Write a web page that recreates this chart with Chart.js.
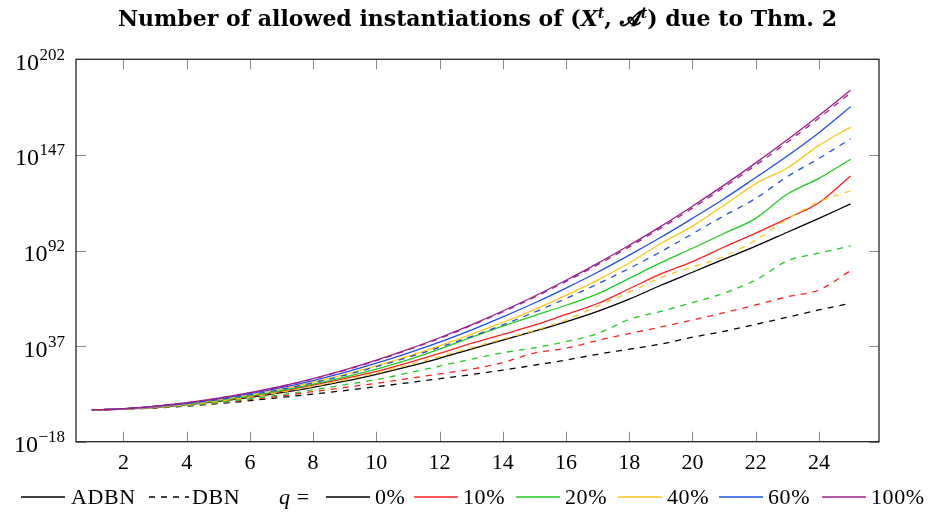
<!DOCTYPE html>
<html lang="en">
<head>
<meta charset="UTF-8">
<title>Allowed instantiations</title>
<style>
    body { margin: 0; background: #fff; }
    #wrap { position: relative; width: 932px; height: 515px; font-family: "Liberation Serif", "DejaVu Serif", serif; color: #000; }
    #title { position: absolute; left: 76px; width: 803px; top: 5px; text-align: center; font-family: "DejaVu Serif", serif; font-weight: bold; font-size: 22px; line-height: 26px; white-space: nowrap; }
    #title sup { font-size: 14px; line-height: 0; }
    .lg { position: absolute; top: 484px; font-size: 22px; line-height: 26px; white-space: nowrap; letter-spacing: 0.6px; }
    .lg svg { display: block; }
</style>
<script src="https://cdn.jsdelivr.net/npm/chart.js"></script>
</head>
<body>
<div id="wrap">
    <canvas id="chart" width="932" height="515"></canvas>
    <div id="title">Number of allowed instantiations of (<i>X</i><sup><i>t</i></sup>, 𝓐<sup><i>t</i></sup>) due to Thm. 2</div>
    <div id="legend"></div>
</div>
<script>
    // x = t, values are log10 of the number of instantiations
    const steps = [1, 2, 3, 4, 5, 6, 7, 8, 9, 10, 11, 12, 13, 14, 15, 16, 17, 18, 19, 20, 21, 22, 23, 24, 25];
    const qLabels = ['0%', '10%', '20%', '40%', '60%', '100%'];
    const qColors = ['#000000', '#ff1f1f', '#1fcc1f', '#ffc61a', '#1f4fe6', '#9e1f8e'];

    const adbn0 = [0.3, 0.8, 1.8, 3.3, 5.2, 7.5, 10.2, 13.3, 16.8, 20.8, 25.2, 30.0, 35.3, 40.5, 45.6, 51.0, 57.0, 64.0, 72.0, 79.5, 87.0, 94.5, 102.5, 110.5, 118.8];
    const adbn10 = [0.3, 0.8, 1.9, 3.5, 5.5, 8.0, 11.0, 14.5, 18.3, 22.4, 27.4, 32.8, 38.5, 43.7, 49.0, 55.2, 61.5, 70.0, 78.5, 85.6, 94.0, 102.0, 110.5, 119.5, 134.9];
    const adbn20 = [0.3, 0.85, 2.0, 3.6, 5.7, 8.3, 11.5, 15.1, 19.2, 23.8, 29.1, 35.3, 42.0, 48.5, 54.5, 60.5, 67.0, 76.0, 85.0, 93.3, 101.8, 110.5, 124.5, 133.5, 144.5];
    const adbn40 = [0.3, 0.9, 2.1, 3.9, 6.2, 9.0, 12.3, 16.2, 20.6, 25.6, 31.1, 37.1, 43.7, 50.6, 58.0, 66.2, 75.0, 84.8, 96.0, 106.0, 118.0, 130.5, 139.5, 152.5, 163.0];
    const adbn60 = [0.3, 0.95, 2.3, 4.1, 6.6, 9.6, 13.1, 17.2, 21.9, 27.2, 33.0, 39.3, 46.2, 53.8, 61.8, 70.4, 79.5, 89.3, 99.6, 110.5, 121.8, 134.0, 146.4, 159.8, 174.7];
    const adbn100 = [0.3, 1.0, 2.4, 4.4, 7.0, 10.2, 13.9, 18.3, 23.3, 28.9, 35.1, 41.8, 49.2, 57.2, 65.7, 74.9, 84.6, 95.0, 105.9, 117.5, 129.6, 142.4, 155.7, 169.7, 184.2];

    const dbn0 = [0.3, 0.7, 1.4, 2.5, 3.9, 5.6, 7.5, 9.4, 11.4, 13.6, 15.9, 18.2, 20.6, 23.2, 26.0, 29.0, 32.3, 35.2, 38.2, 42.1, 45.5, 49.5, 53.6, 57.8, 61.6];
    const dbn10 = [0.3, 0.7, 1.5, 2.7, 4.2, 6.2, 8.4, 10.8, 13.2, 15.6, 18.3, 21.0, 23.7, 27.5, 33.0, 35.8, 40.3, 44.2, 48.0, 52.0, 56.2, 60.7, 65.4, 69.3, 80.4];
    const dbn20 = [0.3, 0.7, 1.6, 2.8, 4.5, 6.6, 9.0, 11.8, 14.8, 17.7, 21.5, 25.5, 29.4, 33.2, 36.0, 39.6, 44.2, 52.4, 57.0, 62.0, 67.5, 75.0, 86.0, 90.5, 94.6];
    const dbn40 = [0.3, 0.8, 1.8, 3.4, 5.3, 7.7, 10.5, 13.8, 17.5, 21.5, 26.0, 31.0, 36.0, 41.0, 46.0, 52.0, 60.0, 68.0, 76.5, 82.5, 88.5, 98.0, 110.0, 120.0, 126.4];
    const dbn60 = [0.3, 0.9, 2.1, 3.9, 6.1, 8.9, 12.1, 15.9, 20.2, 25.2, 30.5, 36.3, 42.5, 49.2, 56.5, 64.4, 72.8, 81.7, 91.3, 101.6, 112.0, 122.0, 134.5, 145.0, 156.2];
    const dbn100 = [0.3, 1.0, 2.4, 4.4, 7.0, 10.1, 13.8, 18.1, 23.1, 28.6, 34.8, 41.4, 48.8, 56.7, 65.1, 74.2, 83.8, 94.1, 104.9, 116.4, 128.4, 141.1, 154.3, 168.2, 182.6];

    const xTicks = [2, 4, 6, 8, 10, 12, 14, 16, 18, 20, 22, 24];
    const yTickExps = [-18, 37, 92, 147, 202];

    const adbnSeries = [adbn0, adbn10, adbn20, adbn40, adbn60, adbn100];
    const dbnSeries = [dbn0, dbn10, dbn20, dbn40, dbn60, dbn100];
    const DASH = [6, 6];

    function toPoints(exps) {
        return steps.map((t, i) => ({ x: t, y: Math.pow(10, exps[i]) }));
    }

    const datasets = [];
    adbnSeries.forEach((s, i) => datasets.push({ label: 'ADBN ' + qLabels[i], data: toPoints(s), borderColor: qColors[i], borderDash: [] }));
    dbnSeries.forEach((s, i) => datasets.push({ label: 'DBN ' + qLabels[i], data: toPoints(s), borderColor: qColors[i], borderDash: DASH }));
    // later entries are drawn on top
    datasets.forEach((d, i) => {
        d.order = datasets.length - i;
        d.borderWidth = 1.3;
        d.pointRadius = 0;
        d.fill = false;
        d.cubicInterpolationMode = 'monotone';
    });

    // inward tick marks, frame and the 10^n labels
    const framePlugin = {
        id: 'frame',
        afterDraw(chart) {
            const ctx = chart.ctx;
            const a = chart.chartArea;
            const xs = chart.scales.x, ys = chart.scales.y;
            const len = 10;
            ctx.save();
            ctx.strokeStyle = '#8a8a8a';
            ctx.lineWidth = 1;
            ctx.beginPath();
            xTicks.forEach(v => {
                const px = Math.round(xs.getPixelForValue(v)) + 0.5;
                ctx.moveTo(px, a.bottom); ctx.lineTo(px, a.bottom - len);
                ctx.moveTo(px, a.top); ctx.lineTo(px, a.top + len);
            });
            yTickExps.forEach(e => {
                const py = Math.round(ys.getPixelForValue(Math.pow(10, e))) + 0.5;
                ctx.moveTo(a.left, py); ctx.lineTo(a.left + len, py);
                ctx.moveTo(a.right, py); ctx.lineTo(a.right - len, py);
            });
            ctx.stroke();

            ctx.strokeStyle = '#262626';
            ctx.lineWidth = 1.3;
            ctx.strokeRect(a.left, a.top, a.right - a.left, a.bottom - a.top);

            ctx.fillStyle = '#000';
            ctx.textAlign = 'right';
            ctx.textBaseline = 'alphabetic';
            yTickExps.forEach(e => {
                const py = ys.getPixelForValue(Math.pow(10, e));
                const sup = e < 0 ? '\u2212' + Math.abs(e) : String(e);
                ctx.font = '17px "Liberation Serif"';
                ctx.fillText(sup, 65, py + 0.5);
                const w = ctx.measureText(sup).width;
                ctx.font = '24px "Liberation Serif"';
                ctx.fillText('10', 65 - w - 0.5, py + 10.5);
            });
            ctx.restore();
        }
    };

    new Chart(document.getElementById('chart'), {
        type: 'line',
        data: { datasets: datasets },
        options: {
            responsive: false,
            animation: false,
            layout: { padding: { top: 59.3, right: 53, left: 0, bottom: 0 } },
            scales: {
                x: {
                    type: 'linear',
                    min: 0.5,
                    max: 25.9,
                    afterBuildTicks: s => { s.ticks = xTicks.map(v => ({ value: v })); },
                    afterFit: s => { s.height = 73.3; },
                    grid: { display: false, drawTicks: false },
                    border: { display: false },
                    ticks: { color: '#000', padding: 8, maxRotation: 0, font: { family: 'Liberation Serif', size: 22 } }
                },
                y: {
                    type: 'logarithmic',
                    min: 1e-18,
                    max: 1e202,
                    afterBuildTicks: s => { s.ticks = yTickExps.map(e => ({ value: Math.pow(10, e) })); },
                    afterFit: s => { s.width = 76; },
                    grid: { display: false, drawTicks: false },
                    border: { display: false },
                    ticks: { display: false }
                }
            },
            plugins: {
                legend: { display: false },
                title: { display: false },
                tooltip: { enabled: false }
            }
        },
        plugins: [framePlugin]
    });

    // legend row under the plot
    const legendItems = [
        { line: '#000', dash: false, left: 21 },
        { text: 'ADBN', left: 71 },
        { line: '#000', dash: true, left: 149 },
        { text: 'DBN', left: 192 },
        { text: '<i>q</i> =', left: 279 }
    ];
    const qLefts = [326, 414, 516, 618, 719, 822];
    qLabels.forEach((lab, i) => {
        legendItems.push({ line: qColors[i], dash: false, left: qLefts[i] });
        legendItems.push({ text: lab, left: qLefts[i] + 49 });
    });
    const legend = document.getElementById('legend');
    legendItems.forEach(it => {
        const el = document.createElement('div');
        el.className = 'lg';
        el.style.left = it.left + 'px';
        if (it.text) {
            el.innerHTML = it.text;
        } else {
            const w = it.dash ? 40 : 44;
            el.innerHTML = '<svg width="' + w + '" height="26"><line x1="0" y1="13" x2="' + w + '" y2="13" stroke="' + it.line +
                '" stroke-width="1.3"' + (it.dash ? ' stroke-dasharray="6 6"' : '') + '/></svg>';
        }
        legend.appendChild(el);
    });
</script>
</body>
</html>
